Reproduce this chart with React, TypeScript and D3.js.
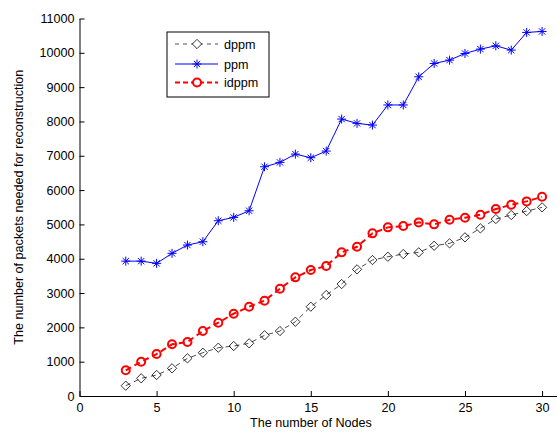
import { useRef, useEffect } from 'react';
import * as d3 from 'd3';

const nodes = [3, 4, 5, 6, 7, 8, 9, 10, 11, 12, 13, 14, 15, 16, 17, 18, 19, 20, 21, 22, 23, 24, 25, 26, 27, 28, 29, 30];
const dppm = [300, 515, 612, 807, 1098, 1261, 1407, 1456, 1535, 1768, 1893, 2164, 2602, 2942, 3262, 3690, 3962, 4058, 4136, 4186, 4378, 4448, 4623, 4885, 5156, 5273, 5389, 5497];
const ppm = [3930, 3930, 3865, 4157, 4398, 4495, 5107, 5205, 5398, 6680, 6807, 7049, 6942, 7137, 8069, 7944, 7894, 8480, 8480, 9301, 9690, 9787, 9982, 10108, 10204, 10079, 10594, 10623];
const idppm = [748, 1000, 1223, 1506, 1573, 1893, 2136, 2398, 2602, 2777, 3126, 3457, 3670, 3787, 4186, 4349, 4739, 4914, 4952, 5059, 5001, 5136, 5195, 5282, 5447, 5573, 5671, 5805];
const xTicks = [0, 5, 10, 15, 20, 25, 30];
const yTicks = [0, 1000, 2000, 3000, 4000, 5000, 6000, 7000, 8000, 9000, 10000, 11000];

const W = 557;
const H = 435;
const FONT = 'Liberation Sans, Arial, sans-serif';
const FS = 12.6;

const App = () => {
  const svgRef = useRef<SVGSVGElement>(null);

  useEffect(() => {
    const svg = d3.select(svgRef.current);
    svg.selectAll('*').remove();

    const x = d3.scaleLinear().domain([0, 31]).range([79.5, 557.5]);
    const y = d3.scaleLinear().domain([0, 11000]).range([396, 18.5]);

    // axes, ticks inward like MATLAB
    const xAxis = d3.axisBottom(x).tickValues(xTicks).tickFormat(d3.format('d')).tickSizeInner(-5).tickSizeOuter(0).tickPadding(7);
    const yAxis = d3.axisLeft(y).tickValues(yTicks).tickFormat(d3.format('d')).tickSizeInner(-5).tickSizeOuter(0).tickPadding(5);

    const gx = svg.append('g').attr('transform', `translate(0,${y(0)})`).call(xAxis);
    const gy = svg.append('g').attr('transform', `translate(${x(0)},0)`).call(yAxis);
    [gx, gy].forEach((g) => {
      g.selectAll('text').attr('font-family', FONT).attr('font-size', FS).attr('fill', '#000');
      g.selectAll('line, path').attr('stroke', '#000');
    });

    svg.append('text')
      .attr('x', 311).attr('y', 427)
      .attr('text-anchor', 'middle')
      .attr('font-family', FONT).attr('font-size', FS)
      .text('The number of Nodes');

    svg.append('text')
      .attr('transform', `translate(23,${y(5500)}) rotate(-90)`)
      .attr('text-anchor', 'middle')
      .attr('font-family', FONT).attr('font-size', FS)
      .text('The number of packets needed for reconstruction');

    const line = (vals: number[]) =>
      d3.line<number>().x((d, i) => x(nodes[i])).y((d) => y(d))(vals);

    // ppm
    svg.append('path').attr('d', line(ppm)).attr('fill', 'none').attr('stroke', '#0000ff').attr('stroke-width', 1);
    const star = (g: any, cx: number, cy: number) => {
      const r = 4.5;
      const s = g.append('g').attr('transform', `translate(${cx},${cy})`).attr('stroke', '#0000ff').attr('stroke-width', 1);
      s.append('line').attr('x1', -r).attr('x2', r).attr('y1', 0).attr('y2', 0);
      s.append('line').attr('x1', 0).attr('x2', 0).attr('y1', -r).attr('y2', r);
      s.append('line').attr('x1', -r * 0.7).attr('x2', r * 0.7).attr('y1', -r * 0.7).attr('y2', r * 0.7);
      s.append('line').attr('x1', -r * 0.7).attr('x2', r * 0.7).attr('y1', r * 0.7).attr('y2', -r * 0.7);
    };
    ppm.forEach((v, i) => star(svg, x(nodes[i]), y(v)));

    // idppm
    svg.append('path').attr('d', line(idppm)).attr('fill', 'none').attr('stroke', '#ff0000').attr('stroke-width', 2).attr('stroke-dasharray', '6,4');
    svg.selectAll('.circ').data(idppm).join('circle').attr('class', 'circ')
      .attr('cx', (d, i) => x(nodes[i])).attr('cy', (d) => y(d)).attr('r', 4)
      .attr('fill', 'none').attr('stroke', '#ff0000').attr('stroke-width', 2);

    // dppm
    svg.append('path').attr('d', line(dppm)).attr('fill', 'none').attr('stroke', '#000').attr('stroke-width', 0.7).attr('stroke-dasharray', '5,4');
    const diamond = d3.symbol().type(d3.symbolDiamond2).size(55);
    svg.selectAll('.dia').data(dppm).join('path').attr('class', 'dia')
      .attr('d', diamond)
      .attr('transform', (d, i) => `translate(${x(nodes[i])},${y(d)})`)
      .attr('fill', 'none').attr('stroke', '#000').attr('stroke-width', 0.8);

    // legend
    const lg = svg.append('g');
    lg.append('rect').attr('x', 167).attr('y', 32).attr('width', 102).attr('height', 65)
      .attr('fill', '#fff').attr('stroke', '#000').attr('stroke-width', 1);
    const rows = [
      { name: 'dppm', y: 44 },
      { name: 'ppm', y: 64 },
      { name: 'idppm', y: 82.5 },
    ];
    const mx = 197;
    lg.append('line').attr('x1', 175).attr('x2', 218).attr('y1', rows[0].y).attr('y2', rows[0].y)
      .attr('stroke', '#000').attr('stroke-width', 0.7).attr('stroke-dasharray', '4,4');
    lg.append('path').attr('d', diamond).attr('transform', `translate(${mx},${rows[0].y})`)
      .attr('fill', '#fff').attr('stroke', '#000').attr('stroke-width', 0.8);
    lg.append('line').attr('x1', 175).attr('x2', 218).attr('y1', rows[1].y).attr('y2', rows[1].y)
      .attr('stroke', '#0000ff').attr('stroke-width', 1);
    star(lg, mx, rows[1].y);
    lg.append('line').attr('x1', 175).attr('x2', 218).attr('y1', rows[2].y).attr('y2', rows[2].y)
      .attr('stroke', '#ff0000').attr('stroke-width', 2).attr('stroke-dasharray', '5,3');
    lg.append('circle').attr('cx', mx).attr('cy', rows[2].y).attr('r', 4)
      .attr('fill', '#fff').attr('stroke', '#ff0000').attr('stroke-width', 2);
    rows.forEach((r) => {
      lg.append('text').attr('x', 224).attr('y', r.y + 4.5)
        .attr('font-family', FONT).attr('font-size', FS).text(r.name);
    });
  }, []);

  return (
    <svg ref={svgRef} width={W} height={H} style={{ position: 'absolute', left: 0, top: 0, background: '#fff' }} />
  );
};

export default App;
